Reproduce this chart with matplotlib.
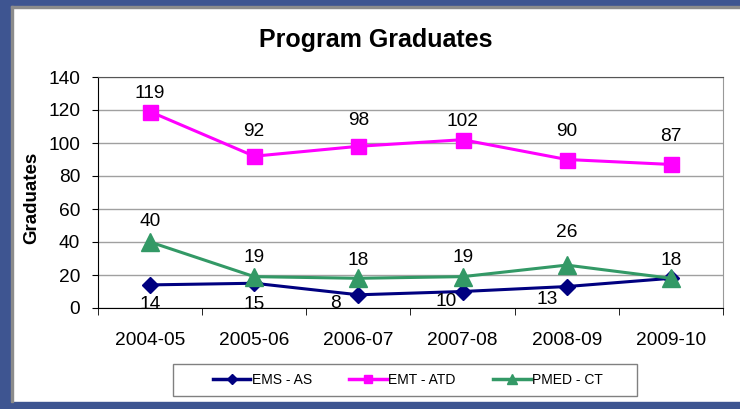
import matplotlib
matplotlib.use("Agg")
import matplotlib.pyplot as plt
from matplotlib.patches import Rectangle
from matplotlib.lines import Line2D

plt.rcParams['font.family'] = ['Liberation Sans', 'DejaVu Sans']

years = ["2004-05", "2005-06", "2006-07", "2007-08", "2008-09", "2009-10"]
ems_as = [14, 15, 8, 10, 13, 18]
emt_atd = [119, 92, 98, 102, 90, 87]
pmed_ct = [40, 19, 18, 19, 26, 18]

# label offsets in pixels (dx, dy), roughly where Excel put them
ems_off = [(0, -20), (0, -21), (-23, -9), (-16, -10.5), (-20, -12.5), None]
emt_off = [(0, 18), (0, 25), (0, 26), (0, 18), (0, 28), (0, 28)]
pmed_off = [(0, 21), (0, 19.6), (0, 18), (0, 19.6), (0, 33), (0, 18)]

navy = "#000080"
magenta = "#FF00FF"
green = "#339966"

fig = plt.figure(figsize=(7.4, 4.09), dpi=100)
W, H = 740, 409

# outer frame (left, top, bottom) with a thin grey inner edge
frame_col = "#3E5591"
fig.patches.append(Rectangle((0, 0), 11 / W, 1, transform=fig.transFigure, color=frame_col, zorder=0))
fig.patches.append(Rectangle((0, 1 - 6 / H), 1, 6 / H, transform=fig.transFigure, color=frame_col, zorder=0))
fig.patches.append(Rectangle((0, 0), 1, 7 / H, transform=fig.transFigure, color=frame_col, zorder=0))
fig.patches.append(Rectangle((11 / W, 7 / H), 1.5 / W, 1 - 13 / H, transform=fig.transFigure,
                             color="#8C8C8C", zorder=0))
fig.patches.append(Rectangle((11 / W, 1 - 7.5 / H), 1, 1.5 / H, transform=fig.transFigure,
                             color="#8C8C8C", zorder=0))

ax = fig.add_axes([98 / W, 1 - 308 / H, (723 - 98) / W, (308 - 77) / H])
x = list(range(len(years)))

ax.plot(x, ems_as, color=navy, lw=2.2, marker="D", ms=8.5, zorder=4)
ax.plot(x, emt_atd, color=magenta, lw=2.2, marker="s", ms=10.8, zorder=4)
ax.plot(x, pmed_ct, color=green, lw=2.2, marker="^", ms=13, zorder=5)

for vals, offs in [(ems_as, ems_off), (emt_atd, emt_off), (pmed_ct, pmed_off)]:
    for i, v in enumerate(vals):
        if offs[i] is None:
            continue
        ax.annotate(str(v), (i, v), xytext=offs[i], textcoords="offset pixels",
                    ha="center", va="center", fontsize=13.8, zorder=6)

ax.set_xlim(-0.5, 5.5)
ax.set_ylim(0, 140)
ax.set_yticks(range(0, 141, 20))
ax.yaxis.grid(True, color="#A0A0A0", lw=1)
ax.set_axisbelow(True)

ax.set_xticks(x)
ax.set_xticklabels(years)
ax.set_xticks([i - 0.5 for i in range(len(years) + 1)], minor=True)
ax.tick_params(axis="x", which="major", length=0, pad=17.5, labelsize=13.8)
ax.tick_params(axis="x", which="minor", length=5, direction="out", color="black")
ax.tick_params(axis="y", length=4.3, direction="out", pad=8.6, labelsize=13.8)

ax.spines["left"].set_color("black")
ax.spines["bottom"].set_color("black")
ax.spines["top"].set_color("#555555")
ax.spines["right"].set_color("#999999")

fig.text(375.5 / W, 1 - 40 / H, "Program Graduates", ha="center", va="center",
         fontsize=18, fontweight="bold")
fig.text(32 / W, 1 - 197.5 / H, "Graduates", ha="center", va="center",
         rotation=90, fontsize=13.5, fontweight="bold")

# legend box drawn separately, entries placed inside
fig.patches.append(Rectangle((173 / W, 1 - 396 / H), (637 - 173) / W, 32 / H,
                             transform=fig.transFigure, fill=False, ec="#808080", lw=1))
handles = [
    Line2D([], [], color=navy, lw=2.5, marker="D", ms=5),
    Line2D([], [], color=magenta, lw=2.5, marker="s", ms=6),
    Line2D([], [], color=green, lw=2.5, marker="^", ms=7),
]
fig.legend(handles, ["EMS - AS", "EMT - ATD", "PMED - CT"], loc="center",
           bbox_to_anchor=(408 / W, 1 - 380 / H), ncol=3, frameon=False,
           fontsize=10, handlelength=2.7, handletextpad=0.1, columnspacing=2.7,
           borderpad=0)

fig.savefig("out.png", dpi=100)
